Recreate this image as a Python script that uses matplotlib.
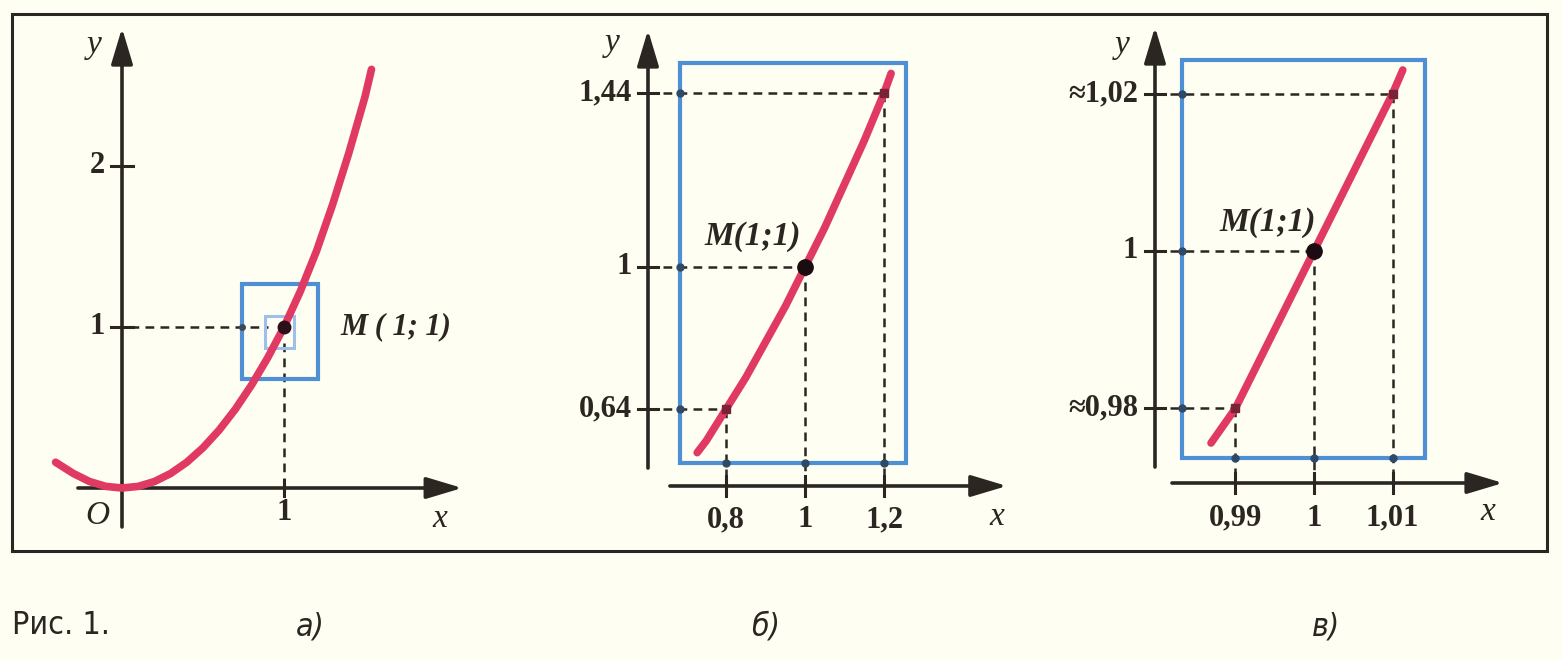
import matplotlib
matplotlib.use('Agg')
import matplotlib.pyplot as plt
from matplotlib.patches import Rectangle

# curve points
curve_a_x = [-0.41, -0.3, -0.2, -0.1, 0.0, 0.1, 0.2, 0.3, 0.4, 0.5, 0.6, 0.7, 0.8, 0.9,
             1.0, 1.1, 1.2, 1.3, 1.4, 1.5, 1.54]
curve_a_y = [0.16, 0.09, 0.04, 0.01, 0.0, 0.01, 0.04, 0.09, 0.16, 0.25, 0.36, 0.49, 0.64, 0.81,
             1.0, 1.22, 1.47, 1.76, 2.08, 2.43, 2.60]
curve_b_x = [0.727, 0.75, 0.80, 0.85, 0.90, 0.95, 1.00, 1.05, 1.10, 1.15, 1.20, 1.218]
curve_b_y = [0.53, 0.56, 0.64, 0.72, 0.81, 0.90, 1.00, 1.10, 1.21, 1.32, 1.44, 1.49]
curve_c_x = [0.9869, 0.99, 1.00, 1.01, 1.0113]
curve_c_y = [0.9756, 0.98, 1.00, 1.02, 1.023]

ticks_a_x = [1]
ticks_a_y = [1, 2]
ticks_b_x = [0.8, 1.0, 1.2]
ticks_b_y = [0.64, 1.0, 1.44]
labels_b_x = ['0,8', '1', '1,2']
labels_b_y = ['0,64', '1', '1,44']
ticks_c_x = [0.99, 1.0, 1.01]
ticks_c_y = [0.98, 1.0, 1.02]
labels_c_x = ['0,99', '1', '1,01']
labels_c_y = ['≈0,98', '1', '≈1,02']

W, H = 1563, 660
BG = '#fffef3'
RED = '#e03a62'
BLUE = '#4f8fd4'
INK = '#2b2622'
SERIF = ['Liberation Serif', 'DejaVu Serif']

fig = plt.figure(figsize=(W / 100, H / 100), dpi=100, facecolor=BG)

# frame + captions in pixel coords
base = fig.add_axes([0, 0, 1, 1])
base.set_xlim(0, W)
base.set_ylim(H, 0)
base.axis('off')
base.add_patch(Rectangle((12, 14), 1535, 537, fill=False, ec=INK, lw=2.2))
cap_kw = dict(family='DejaVu Sans', fontstretch='condensed', fontsize=23, color=INK, va='center')
base.text(12, 625, 'Рис. 1.', ha='left', **cap_kw)
base.text(310, 627, 'а)', ha='center', style='italic', **cap_kw)
base.text(766, 627, 'б)', ha='center', style='italic', **cap_kw)
base.text(1326, 627, 'в)', ha='center', style='italic', **cap_kw)


def panel(xlim, ylim, xr, yr, px, py, sx, sy):
    left = px + (xlim[0] - xr) * sx
    right = px + (xlim[1] - xr) * sx
    top = py - (ylim[1] - yr) * sy
    bot = py - (ylim[0] - yr) * sy
    ax = fig.add_axes([left / W, 1 - bot / H, (right - left) / W, (bot - top) / H])
    ax.set_xlim(*xlim)
    ax.set_ylim(*ylim)
    ax.axis('off')
    return ax


def arrow(ax, x0, y0, x1, y1):
    ax.annotate('', xy=(x1, y1), xytext=(x0, y0),
                arrowprops=dict(arrowstyle='-|>,head_length=1.0,head_width=0.3',
                                mutation_scale=22, lw=2.6, color=INK,
                                shrinkA=0, shrinkB=0))


def dashed(ax, xs, ys):
    ax.plot(xs, ys, color=INK, lw=1.8, ls=(0, (3.5, 2.5)), zorder=2)


def curve(ax, xs, ys):
    ax.plot(xs, ys, color=RED, lw=5.5, solid_capstyle='round',
            solid_joinstyle='round', zorder=4)


num_kw = dict(family=SERIF, fontsize=22, color=INK, fontweight='bold')
ital_kw = dict(family=SERIF, fontsize=24, color=INK, style='italic')

# ---- panel a
ax = panel((-0.5, 2.3), (-0.4, 3.0), 0, 0, 122, 488, 162, 161)
arrow(ax, -0.272, 0, 2.10, 0)
arrow(ax, 0, -0.242, 0, 2.857)
for t in ticks_a_y:
    ax.plot([-0.065, 0.065], [t, t], color=INK, lw=2.2)
    ax.text(-0.105, t, str(t), ha='right', va='center', **num_kw)
for t in ticks_a_x:
    ax.plot([t, t], [-0.05, 0.05], color=INK, lw=2.2)
    ax.text(t, -0.15, str(t), ha='center', va='center', **num_kw)
ax.text(-0.15, -0.17, 'O', ha='center', va='center', **ital_kw)
ax.text(1.963, -0.19, 'x', ha='center', va='center', **ital_kw)
ax.text(-0.17, 2.75, 'y', ha='center', va='center', **ital_kw)
dashed(ax, [0.05, 0.9], [1, 1])
dashed(ax, [1, 1], [0.9, 0.0])
ax.add_patch(Rectangle((0.74, 0.68), 0.47, 0.59, fill=False, ec=BLUE, lw=3, zorder=3))
ax.add_patch(Rectangle((0.88, 0.87), 0.18, 0.20, fill=False, ec='#9cc0ea', lw=2.2, zorder=3))
curve(ax, curve_a_x, curve_a_y)
ax.plot([1], [1], 'o', color='#2a1018', ms=9, zorder=5)
ax.plot([0.74], [1], 'o', color='#3b4b5a', ms=4, zorder=5)
ax.text(1.35, 1.0, 'M ( 1; 1)', ha='left', va='center', family=SERIF, fontsize=22,
        color=INK, style='italic', fontweight='bold')

# ---- panel b
ax = panel((0.45, 1.60), (0.30, 1.65), 1, 1, 805, 267, 395, 395)
arrow(ax, 0.658, 0.4456, 1.511, 0.4456)
arrow(ax, 0.6025, 0.491, 0.6025, 1.60)
ax.add_patch(Rectangle((0.6835, 0.5038), 1.2557 - 0.6835, 1.5165 - 0.5038, fill=False, ec=BLUE, lw=3, zorder=3))
for t, lab in zip(ticks_b_y, labels_b_y):
    ax.plot([0.577, 0.628], [t, t], color=INK, lw=2.2)
    ax.text(0.562, t, lab, ha='right', va='center', **num_kw)
for t, lab in zip(ticks_b_x, labels_b_x):
    ax.plot([t, t], [0.42, 0.471], color=INK, lw=2.2)
    ax.text(t, 0.3595, lab, ha='center', va='center', **num_kw)
for tx, ty in zip(ticks_b_x, ticks_b_y):
    dashed(ax, [0.6025, tx], [ty, ty])
    dashed(ax, [tx, tx], [ty, 0.4456])
    ax.plot([0.6835], [ty], 'o', color='#2f4a66', ms=5, zorder=5)
    ax.plot([tx], [0.5038], 'o', color='#2f4a66', ms=5, zorder=5)
curve(ax, curve_b_x, curve_b_y)
ax.plot([ticks_b_x[0], ticks_b_x[2]], [ticks_b_y[0], ticks_b_y[2]], 's', color='#7a2338', ms=6, zorder=5, ls='none')
ax.plot([1], [1], 'o', color='#1a0c10', ms=11, zorder=6)
ax.text(0.868, 1.076, 'M(1;1)', ha='center', va='center', family=SERIF, fontsize=24,
        color=INK, style='italic', fontweight='bold')
ax.text(1.486, 0.367, 'x', ha='center', va='center', **ital_kw)
ax.text(0.5114, 1.567, 'y', ha='center', va='center', **ital_kw)

# ---- panel c
ax = panel((0.970, 1.030), (0.960, 1.032), 1, 1, 1314, 251, 7860, 7870)
arrow(ax, 0.98193, 0.97052, 1.02405, 0.97052)
arrow(ax, 0.97977, 0.97255, 0.97977, 1.02846)
ax.add_patch(Rectangle((0.98321, 0.9737), 1.01412 - 0.98321, 1.02427 - 0.9737, fill=False, ec=BLUE, lw=3, zorder=3))
for t, lab in zip(ticks_c_y, labels_c_y):
    ax.plot([0.97845, 0.98109], [t, t], color=INK, lw=2.2)
    ax.text(0.97761, t, lab, ha='right', va='center', **num_kw)
for t, lab in zip(ticks_c_x, labels_c_x):
    ax.plot([t, t], [0.96925, 0.97179], color=INK, lw=2.2)
    ax.text(t, 0.96607, lab, ha='center', va='center', **num_kw)
for tx, ty in zip(ticks_c_x, ticks_c_y):
    dashed(ax, [0.97977, tx], [ty, ty])
    dashed(ax, [tx, tx], [ty, 0.97052])
    ax.plot([0.98321], [ty], 'o', color='#2f4a66', ms=5, zorder=5)
    ax.plot([tx], [0.9737], 'o', color='#2f4a66', ms=5, zorder=5)
curve(ax, curve_c_x, curve_c_y)
ax.plot([ticks_c_x[0], ticks_c_x[2]], [ticks_c_y[0], ticks_c_y[2]], 's', color='#7a2338', ms=6, zorder=5, ls='none')
ax.plot([1], [1], 'o', color='#1a0c10', ms=11, zorder=6)
ax.text(0.99415, 1.00356, 'M(1;1)', ha='center', va='center', family=SERIF, fontsize=24,
        color=INK, style='italic', fontweight='bold')
ax.text(1.02214, 0.96684, 'x', ha='center', va='center', **ital_kw)
ax.text(0.97557, 1.02618, 'y', ha='center', va='center', **ital_kw)

fig.savefig('out.png', dpi=100, facecolor=BG)
